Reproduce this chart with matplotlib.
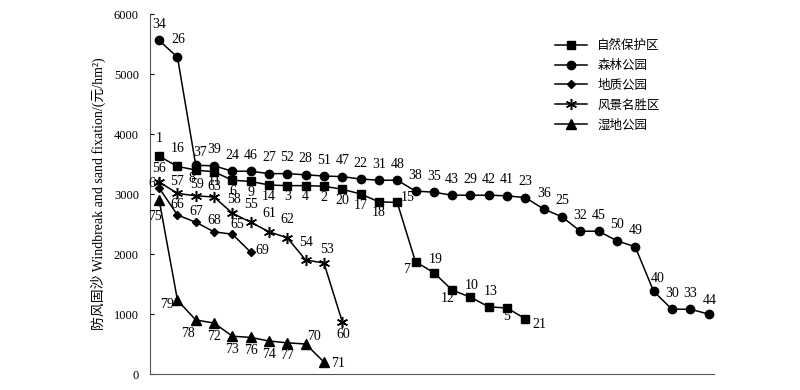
import matplotlib.pyplot as plt

plt.rcParams['font.family'] = ['Liberation Serif', 'Noto Sans CJK SC']

# 自然保护区
nr_ids = [1, 16, 8, 11, 6, 9, 14, 3, 4, 2, 20, 17, 18, 15, 7, 19, 12, 10, 13, 5, 21]
nr_val = [3630, 3460, 3400, 3370, 3230, 3210, 3150, 3140, 3140, 3130, 3080, 3000, 2870, 2860,
          1870, 1690, 1400, 1280, 1120, 1100, 920]
# 森林公园
fp_ids = [34, 26, 37, 39, 24, 46, 27, 52, 28, 51, 47, 22, 31, 48, 38, 35, 43, 29, 42, 41, 23,
          36, 25, 32, 45, 50, 49, 40, 30, 33, 44]
fp_val = [5560, 5280, 3480, 3470, 3380, 3380, 3340, 3340, 3320, 3300, 3290, 3250, 3230, 3230,
          3050, 3030, 2980, 2980, 2980, 2970, 2940, 2750, 2620, 2380, 2380, 2220, 2120,
          1380, 1080, 1080, 1000]
# 地质公园
gp_ids = [64, 66, 67, 68, 65, 69]
gp_val = [3100, 2650, 2530, 2370, 2330, 2030]
# 风景名胜区
sa_ids = [56, 57, 59, 63, 58, 55, 61, 62, 54, 53, 60]
sa_val = [3200, 3010, 2970, 2950, 2680, 2530, 2370, 2270, 1900, 1850, 870]
# 湿地公园
wp_ids = [75, 79, 78, 72, 73, 76, 74, 77, 70, 71]
wp_val = [2900, 1230, 900, 850, 630, 610, 550, 520, 500, 200]

# label offsets in pixels (default per series, plus overrides)
nr_off = {1: (0, 18), 16: (0, 18), 8: (-4, -8), 11: (0, -10), 15: (10, 5), 7: (-9, -8),
          19: (2, 13), 12: (-4, -8), 10: (1, 12), 13: (2, 15), 5: (-1, -8), 21: (14, -6)}
fp_off = {26: (1, 18), 37: (4, 13), 40: (4, 13), 44: (1, 14)}
gp_off = {64: (-4, 5), 65: (5, 10), 69: (12, 2)}
sa_off = {60: (1, -13), 53: (3, 14), 58: (2, 14), 56: (0, 14), 57: (0, 12), 59: (1, 11), 63: (0, 11)}
wp_off = {75: (-4, -16), 79: (-10, -4), 78: (-8, -13), 70: (8, 8), 71: (14, -1)}

series = [
    ('自然保护区', nr_ids, nr_val, dict(marker='s', ms=6), (0, -11), nr_off),
    ('森林公园', fp_ids, fp_val, dict(marker='o', ms=6), (0, 16), fp_off),
    ('地质公园', gp_ids, gp_val, dict(marker='D', ms=4), (0, 11), gp_off),
    ('风景名胜区', sa_ids, sa_val, dict(marker=(6, 2, 0), ms=8, mew=1.1), (0, 18), sa_off),
    ('湿地公园', wp_ids, wp_val, dict(marker='^', ms=7), (0, -13), wp_off),
]

fig = plt.figure(figsize=(8, 3.9), dpi=100)
ax = fig.add_axes([0.1875, 0.041, 0.705, 0.923])

for name, ids, vals, mk, default, over in series:
    xs = list(range(len(vals)))
    ax.plot(xs, vals, color='black', lw=1.1, mfc='black', mec='black', label=name, **mk)
    for x, v, i in zip(xs, vals, ids):
        dx, dy = over.get(i, default)
        ax.annotate(str(i), (x, v), xytext=(dx, dy), textcoords='offset pixels',
                    ha='center', va='center', fontsize=10)

ax.set_xlim(-0.5, 30.3)
ax.set_ylim(0, 6000)
ax.set_yticks(range(0, 6001, 1000))
ax.set_xticks([])
ax.tick_params(axis='y', direction='in', length=3, labelsize=9, pad=8)
ax.spines['top'].set_visible(False)
ax.spines['right'].set_visible(False)
ax.spines['left'].set_color('#555555')
ax.spines['bottom'].set_color('#555555')
ax.set_ylabel('防风固沙 Windbreak and sand fixation/(元/hm²)', fontsize=10, labelpad=6)

leg = ax.legend(loc='upper left', bbox_to_anchor=(0.698, 0.96), frameon=False, fontsize=9,
                handlelength=2.6, labelspacing=0.62, handletextpad=0.8)

fig.savefig('out.png', dpi=100)
